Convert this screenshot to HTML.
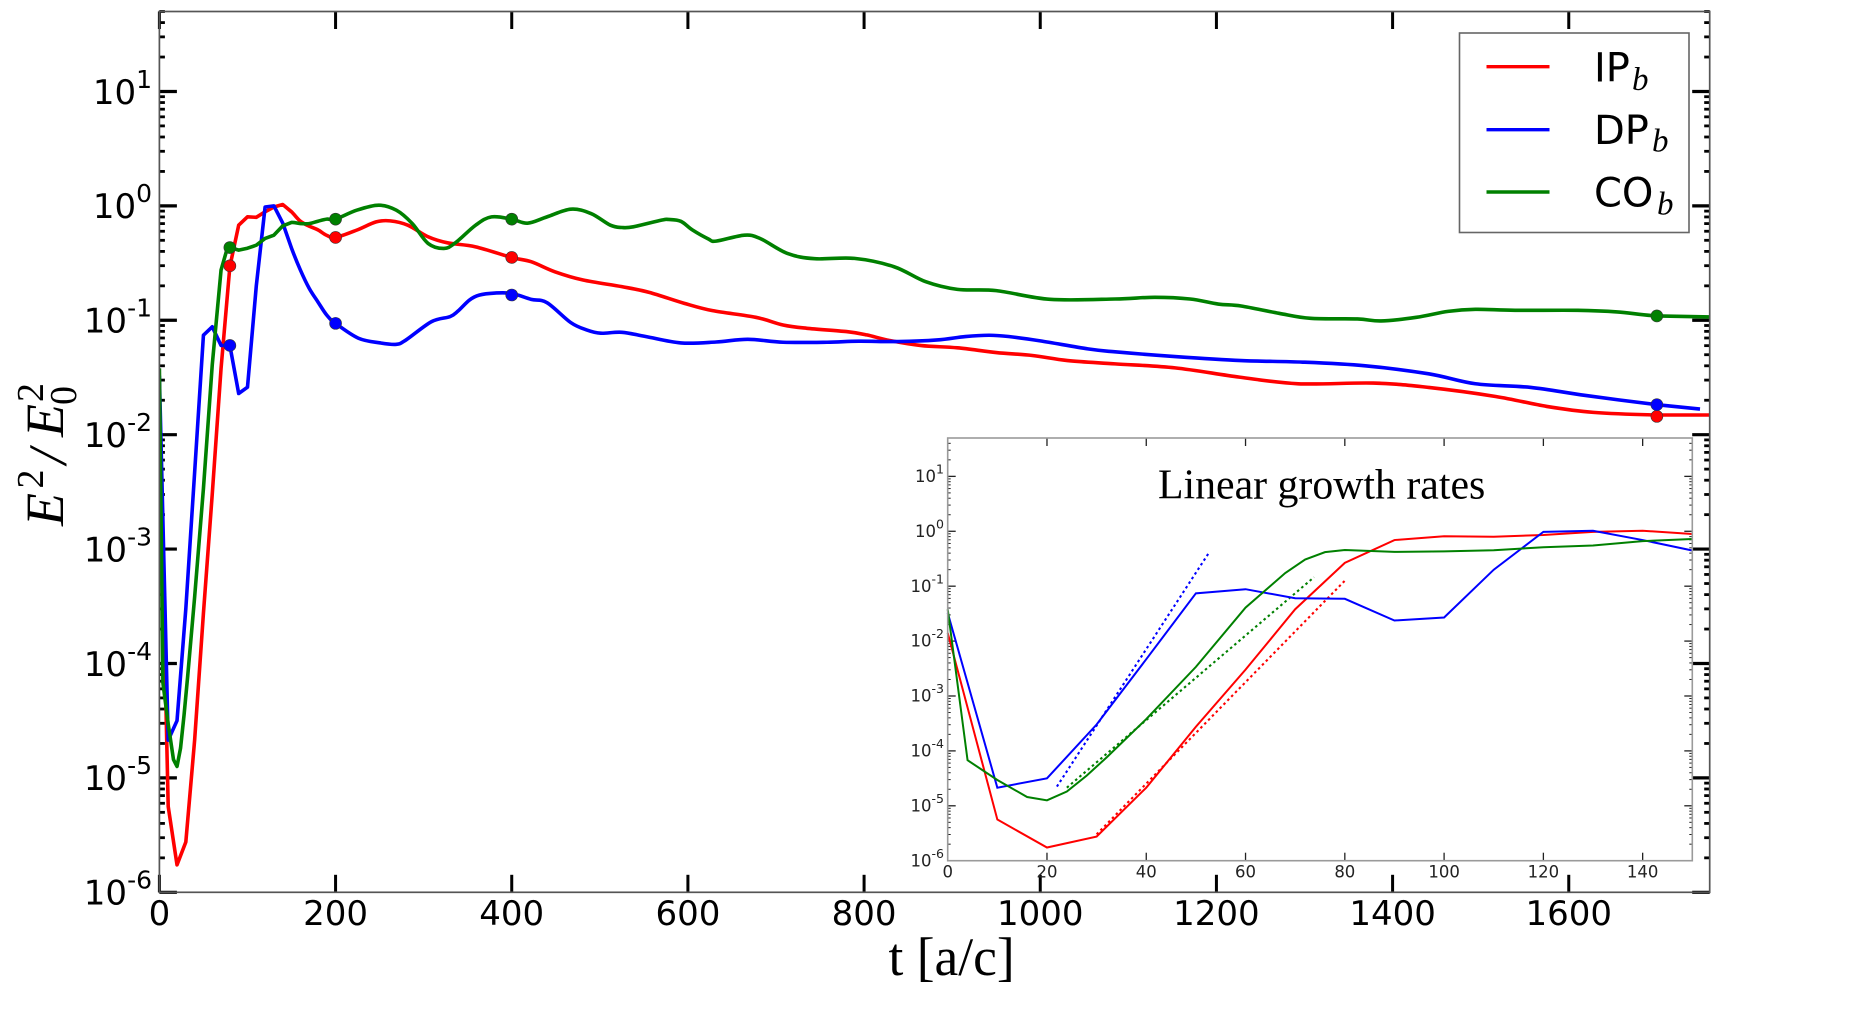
<!DOCTYPE html>
<html>
<head>
<meta charset="utf-8">
<title>Field energy growth chart</title>
<style>
html,body{margin:0;padding:0;background:#fff;}
svg{display:block;}
text{fill:#000;}
.sans{font-family:"DejaVu Sans","Liberation Sans",sans-serif;}
.serif{font-family:"Liberation Serif",serif;}
</style>
</head>
<body>
<svg id="chart" width="1858" height="1022" viewBox="0 0 1858 1022" xmlns="http://www.w3.org/2000/svg">
  <rect x="0" y="0" width="1858" height="1022" fill="#fff"/>
  <g id="main"></g>
  <text class="serif" x="888.5" y="975" font-size="53.5">t [a/c]</text>
  <g class="serif">
    <text font-style="italic" font-size="54" transform="translate(63 526) rotate(-90)">E</text>
    <text font-size="38" transform="translate(43 488.5) rotate(-90)">2</text>
    <text font-style="italic" font-size="54" transform="translate(66 464) rotate(-90)">/</text>
    <text font-style="italic" font-size="54" transform="translate(63 437) rotate(-90)">E</text>
    <text font-size="38" transform="translate(43 402) rotate(-90)">2</text>
    <text font-size="38" transform="translate(76 405) rotate(-90)">0</text>
  </g>
  <g>
    <rect x="1459.5" y="33" width="229.5" height="199.5" fill="#fff" stroke="#666" stroke-width="1.6"/>
    <line x1="1486.5" x2="1549.5" y1="66.7" y2="66.7" stroke="#f00" stroke-width="3.4"/>
    <line x1="1486.5" x2="1549.5" y1="129.7" y2="129.7" stroke="#00f" stroke-width="3.4"/>
    <line x1="1486.5" x2="1549.5" y1="192" y2="192" stroke="#008000" stroke-width="3.4"/>
    <text class="sans" x="1594" y="81.7" font-size="40">IP</text>
    <text class="serif" x="1632" y="90" font-size="33" font-style="italic">b</text>
    <text class="sans" x="1594" y="144" font-size="40">DP</text>
    <text class="serif" x="1652" y="151.7" font-size="33" font-style="italic">b</text>
    <text class="sans" x="1594" y="206.7" font-size="40">CO</text>
    <text class="serif" x="1657" y="214.3" font-size="33" font-style="italic">b</text>
  </g>
  <g id="inset"></g>
  <text class="serif" x="1158" y="498.7" font-size="41.8">Linear growth rates</text>
</svg>
<script>
/* ---------- main chart data (values are log10 of E^2/E0^2) ---------- */
var xTickLabels = ['0','200','400','600','800','1000','1200','1400','1600'];
var yTickExponents = [-6,-5,-4,-3,-2,-1,0,1];

var ipTimes = [0,10,20,30,40,50,60,70,80,90,100,110,120,130,140,150,160,170,180,190,200,224,246,262,282,305,327,359,400,422,449,481,525,556,596,628,677,708,735,780,803,829,865,906,950,991,1031,1085,1153,1226,1293,1378,1441,1517,1575,1628,1700,1760];
var ipLogValues = [-1.85,-5.25,-5.76,-5.56,-4.67,-3.56,-2.52,-1.42,-0.53,-0.169,-0.096,-0.10,-0.052,-0.01,0.012,-0.052,-0.134,-0.177,-0.21,-0.258,-0.276,-0.212,-0.14,-0.131,-0.169,-0.27,-0.323,-0.358,-0.451,-0.488,-0.576,-0.648,-0.706,-0.756,-0.852,-0.916,-0.974,-1.041,-1.07,-1.099,-1.128,-1.177,-1.221,-1.241,-1.282,-1.308,-1.352,-1.381,-1.416,-1.497,-1.555,-1.549,-1.587,-1.666,-1.753,-1.805,-1.828,-1.828];

var dpTimes = [0,10,20,30,40,50,60,70,80,90,100,110,120,130,140,150,160,170,180,190,200,226,251,269,280,309,330,339,352,363,381,400,422,440,467,485,501,525,552,592,632,668,708,758,794,839,883,915,942,964,1000,1054,1085,1153,1228,1298,1369,1441,1494,1557,1619,1700,1749];
var dpLogValues = [-1.485,-4.67,-4.50,-3.52,-2.33,-1.13,-1.057,-1.22,-1.22,-1.64,-1.585,-0.70,-0.01,0,-0.15,-0.37,-0.56,-0.72,-0.84,-0.955,-1.027,-1.157,-1.198,-1.21,-1.172,-1.012,-0.968,-0.919,-0.823,-0.78,-0.762,-0.765,-0.817,-0.846,-1.02,-1.084,-1.113,-1.105,-1.142,-1.198,-1.19,-1.166,-1.192,-1.192,-1.183,-1.186,-1.172,-1.142,-1.131,-1.142,-1.18,-1.25,-1.276,-1.317,-1.352,-1.366,-1.398,-1.468,-1.555,-1.587,-1.657,-1.738,-1.776];

var coTimes = [0,4,10,16,20,24,28,32,40,50,60,70,76,80,90,100,110,120,130,140,150,160,170,180,190,200,224,249,269,287,305,323,336,359,377,400,418,440,467,490,512,525,538,570,578,592,605,623,632,664,682,713,744,789,834,870,906,950,1011,1085,1130,1170,1202,1228,1271,1307,1360,1387,1427,1463,1494,1539,1610,1655,1700,1760];
var coLogValues = [-1.42,-4.17,-4.53,-4.84,-4.90,-4.74,-4.45,-4.12,-3.42,-2.47,-1.39,-0.56,-0.40,-0.364,-0.387,-0.37,-0.344,-0.285,-0.256,-0.175,-0.145,-0.155,-0.155,-0.134,-0.116,-0.116,-0.038,0.006,-0.038,-0.154,-0.328,-0.372,-0.323,-0.169,-0.096,-0.116,-0.151,-0.096,-0.029,-0.067,-0.169,-0.189,-0.183,-0.125,-0.119,-0.135,-0.21,-0.288,-0.308,-0.256,-0.285,-0.416,-0.462,-0.459,-0.532,-0.663,-0.73,-0.741,-0.817,-0.814,-0.799,-0.814,-0.858,-0.875,-0.939,-0.983,-0.988,-1.006,-0.974,-0.922,-0.904,-0.913,-0.913,-0.927,-0.962,-0.971];

var markerTimes = [80,200,400,1700];
var ipMarkerLogValues = [-0.524,-0.276,-0.451,-1.84];
var dpMarkerLogValues = [-1.22,-1.027,-0.779,-1.738];
var coMarkerLogValues = [-0.364,-0.116,-0.116,-0.962];

/* ---------- inset chart data ---------- */
var insetXTickLabels = ['0','20','40','60','80','100','120','140'];
var insetYTickExponents = [-6,-5,-4,-3,-2,-1,0,1];

var insetIpTimes = [0,10,20,30,40,50,60,70,80,90,100,110,120,130,140,150];
var insetIpLogValues = [-1.85,-5.25,-5.76,-5.56,-4.67,-3.56,-2.52,-1.42,-0.575,-0.16,-0.09,-0.10,-0.067,-0.01,0.01,-0.05];

var insetDpTimes = [0,10,20,30,40,50,60,70,80,90,100,110,120,130,140,150];
var insetDpLogValues = [-1.485,-4.67,-4.50,-3.52,-2.33,-1.13,-1.055,-1.22,-1.23,-1.625,-1.57,-0.70,-0.01,0.01,-0.16,-0.35];

var insetCoTimes = [0,4,10,16,20,24,28,32,40,50,60,68,72,76,80,90,100,110,120,130,140,150];
var insetCoLogValues = [-1.42,-4.17,-4.53,-4.84,-4.90,-4.74,-4.45,-4.12,-3.42,-2.47,-1.39,-0.76,-0.515,-0.38,-0.34,-0.375,-0.365,-0.345,-0.29,-0.26,-0.18,-0.14];

var fitIpTimes = [30,80];
var fitIpLogValues = [-5.52,-0.90];
var fitDpTimes = [22,52.7];
var fitDpLogValues = [-4.65,-0.38];
var fitCoTimes = [24,73.8];
var fitCoLogValues = [-4.67,-0.836];

/* ---------- axis functions ---------- */
var NS = 'http://www.w3.org/2000/svg';
var LOG_MIN = -6, LOG_MAX = Math.log(5e7) / Math.LN10 - 6;

function scaleX(box, xmax, t) { return box.left + (t / xmax) * (box.right - box.left); }
function scaleY(box, lv) { return box.bottom - ((lv - LOG_MIN) / (LOG_MAX - LOG_MIN)) * (box.bottom - box.top); }

function make(tag, parent, attrs) {
  var el = document.createElementNS(NS, tag);
  for (var k in attrs) el.setAttribute(k, attrs[k]);
  parent.appendChild(el);
  return el;
}

function linePath(box, xmax, ts, lvs, smoothFrom) {
  var px = ts.map(function (t) { return scaleX(box, xmax, t); });
  var py = lvs.map(function (v) { return scaleY(box, v); });
  var d = 'M' + px[0].toFixed(2) + ' ' + py[0].toFixed(2);
  for (var i = 1; i < px.length; i++) {
    if (ts[i - 1] >= smoothFrom && i >= 2 && i < px.length - 1) {
      var c1x = px[i - 1] + (px[i] - px[i - 2]) / 6, c1y = py[i - 1] + (py[i] - py[i - 2]) / 6;
      var c2x = px[i] - (px[i + 1] - px[i - 1]) / 6, c2y = py[i] - (py[i + 1] - py[i - 1]) / 6;
      d += 'C' + c1x.toFixed(2) + ' ' + c1y.toFixed(2) + ' ' + c2x.toFixed(2) + ' ' + c2y.toFixed(2) + ' ' + px[i].toFixed(2) + ' ' + py[i].toFixed(2);
    } else {
      d += 'L' + px[i].toFixed(2) + ' ' + py[i].toFixed(2);
    }
  }
  return d;
}

function drawAxes(g, box, xmax, xLabels, yExps, st) {
  var k, m, el, x, y, lv;
  for (k = 0; k < yExps.length; k++) {
    y = scaleY(box, yExps[k]);
    el = make('line', g, { x1: box.left, x2: box.left + st.major, y1: y, y2: y, stroke: st.tick, 'stroke-width': st.majorW });
    
    
    el = make('line', g, { x1: box.right - st.major, x2: box.right, y1: y, y2: y, stroke: st.tick, 'stroke-width': st.majorW });
    
    
    for (m = 2; m <= 9; m++) {
      lv = yExps[k] + Math.log(m) / Math.LN10;
      if (lv > LOG_MAX + 0.001) continue;
      y = scaleY(box, lv);
      el = make('line', g, { x1: box.left, x2: box.left + st.minor, y1: y, y2: y, stroke: st.tick, 'stroke-width': st.minorW });
      
      
      el = make('line', g, { x1: box.right - st.minor, x2: box.right, y1: y, y2: y, stroke: st.tick, 'stroke-width': st.minorW });
      
      
    }
    y = scaleY(box, yExps[k]);
    el = make('text', g, { x: st.yLabelX, y: y + st.yLabelDy, 'text-anchor': 'end', 'font-size': st.font, 'class': 'sans', style: 'fill:' + st.text });
    
    
    var base = make('tspan', el, {});
    base.textContent = '10';
    var sup = make('tspan', el, { dy: st.expDy, 'font-size': st.expFont });
    sup.textContent = String(yExps[k]);
  }
  for (k = 0; k < xLabels.length; k++) {
    x = scaleX(box, xmax, parseFloat(xLabels[k]));
    el = make('line', g, { x1: x, x2: x, y1: box.bottom - st.major, y2: box.bottom, stroke: st.tick, 'stroke-width': st.xW });
    
    
    el = make('line', g, { x1: x, x2: x, y1: box.top, y2: box.top + st.major, stroke: st.tick, 'stroke-width': st.xW });
    
    
    el = make('text', g, { x: x, y: st.xLabelY, 'text-anchor': 'middle', 'font-size': st.font, 'class': 'sans', style: 'fill:' + st.text });
    
    
    el.textContent = xLabels[k];
  }
}

function drawFrame(g, box, st) {
  var el = make('rect', g, { x: box.left, y: box.top, width: box.right - box.left, height: box.bottom - box.top, fill: 'none', stroke: st.spine, 'stroke-width': st.spineW });
  
  
}

/* ---------- main plot ---------- */
var mainBox = { left: 159.4, right: 1709.7, top: 11.5, bottom: 892.3 };
var MAIN_XMAX = 1760;
var mainG = document.getElementById('main');
var mainStyle = { major: 17.5, minor: 5.5, majorW: 3.2, minorW: 2.8, xW: 3, tick: '#000', spine: '#555', spineW: 1.7, font: 34, expFont: 25, expDy: -16, yLabelX: 152, yLabelDy: 12.3, xLabelY: 925, text: '#000' };

drawAxes(mainG, mainBox, MAIN_XMAX, xTickLabels, yTickExponents, mainStyle);

var clipDefs = make('defs', mainG, {});
var clip = make('clipPath', clipDefs, { id: 'mainClip' });
make('rect', clip, { x: mainBox.left, y: mainBox.top, width: mainBox.right - mainBox.left, height: mainBox.bottom - mainBox.top });

var ipLine = make('path', mainG, { d: linePath(mainBox, MAIN_XMAX, ipTimes, ipLogValues, 150), fill: 'none', stroke: '#f00', 'stroke-width': 3.6, 'stroke-linejoin': 'round', 'clip-path': 'url(#mainClip)' });


var dpLine = make('path', mainG, { d: linePath(mainBox, MAIN_XMAX, dpTimes, dpLogValues, 150), fill: 'none', stroke: '#00f', 'stroke-width': 3.6, 'stroke-linejoin': 'round', 'clip-path': 'url(#mainClip)' });


var coLine = make('path', mainG, { d: linePath(mainBox, MAIN_XMAX, coTimes, coLogValues, 150), fill: 'none', stroke: '#008000', 'stroke-width': 3.6, 'stroke-linejoin': 'round', 'clip-path': 'url(#mainClip)' });



drawFrame(mainG, mainBox, mainStyle);

markerTimes.forEach(function (t, i) {
  var cx = scaleX(mainBox, MAIN_XMAX, t);
  var a = make('circle', mainG, { cx: cx, cy: scaleY(mainBox, ipMarkerLogValues[i]), r: 6, fill: '#f00', stroke: '#333', 'stroke-width': 0.6 });
  
  
  var b = make('circle', mainG, { cx: cx, cy: scaleY(mainBox, dpMarkerLogValues[i]), r: 6, fill: '#00f', stroke: '#333', 'stroke-width': 0.6 });
  
  
  var c = make('circle', mainG, { cx: cx, cy: scaleY(mainBox, coMarkerLogValues[i]), r: 6, fill: '#008000', stroke: '#333', 'stroke-width': 0.6 });
  
  
});

/* ---------- inset plot ---------- */
var insetBox = { left: 947.7, right: 1692.3, top: 438, bottom: 860.7 };
var INSET_XMAX = 150;
var insetG = document.getElementById('inset');
var insetStyle = { major: 8, minor: 3, majorW: 1.3, minorW: 1, xW: 1.3, tick: '#222', spine: '#9a9a9a', spineW: 1.6, font: 16.5, expFont: 12.5, expDy: -8.5, yLabelX: 944, yLabelDy: 5.6, xLabelY: 877.3, text: '#222' };

drawAxes(insetG, insetBox, INSET_XMAX, insetXTickLabels, insetYTickExponents, insetStyle);

var fitIp = make('path', insetG, { d: linePath(insetBox, INSET_XMAX, fitIpTimes, fitIpLogValues, 1e9), fill: 'none', stroke: '#f00', 'stroke-width': 2.1, 'stroke-dasharray': '2.5 3' });


var fitDp = make('path', insetG, { d: linePath(insetBox, INSET_XMAX, fitDpTimes, fitDpLogValues, 1e9), fill: 'none', stroke: '#00f', 'stroke-width': 2.1, 'stroke-dasharray': '2.5 3' });


var fitCo = make('path', insetG, { d: linePath(insetBox, INSET_XMAX, fitCoTimes, fitCoLogValues, 1e9), fill: 'none', stroke: '#008000', 'stroke-width': 2.1, 'stroke-dasharray': '2.5 3' });



var insetIp = make('path', insetG, { d: linePath(insetBox, INSET_XMAX, insetIpTimes, insetIpLogValues, 1e9), fill: 'none', stroke: '#f00', 'stroke-width': 2 });


var insetDp = make('path', insetG, { d: linePath(insetBox, INSET_XMAX, insetDpTimes, insetDpLogValues, 1e9), fill: 'none', stroke: '#00f', 'stroke-width': 2 });


var insetCo = make('path', insetG, { d: linePath(insetBox, INSET_XMAX, insetCoTimes, insetCoLogValues, 1e9), fill: 'none', stroke: '#008000', 'stroke-width': 2 });



drawFrame(insetG, insetBox, insetStyle);
</script>
</body>
</html>
